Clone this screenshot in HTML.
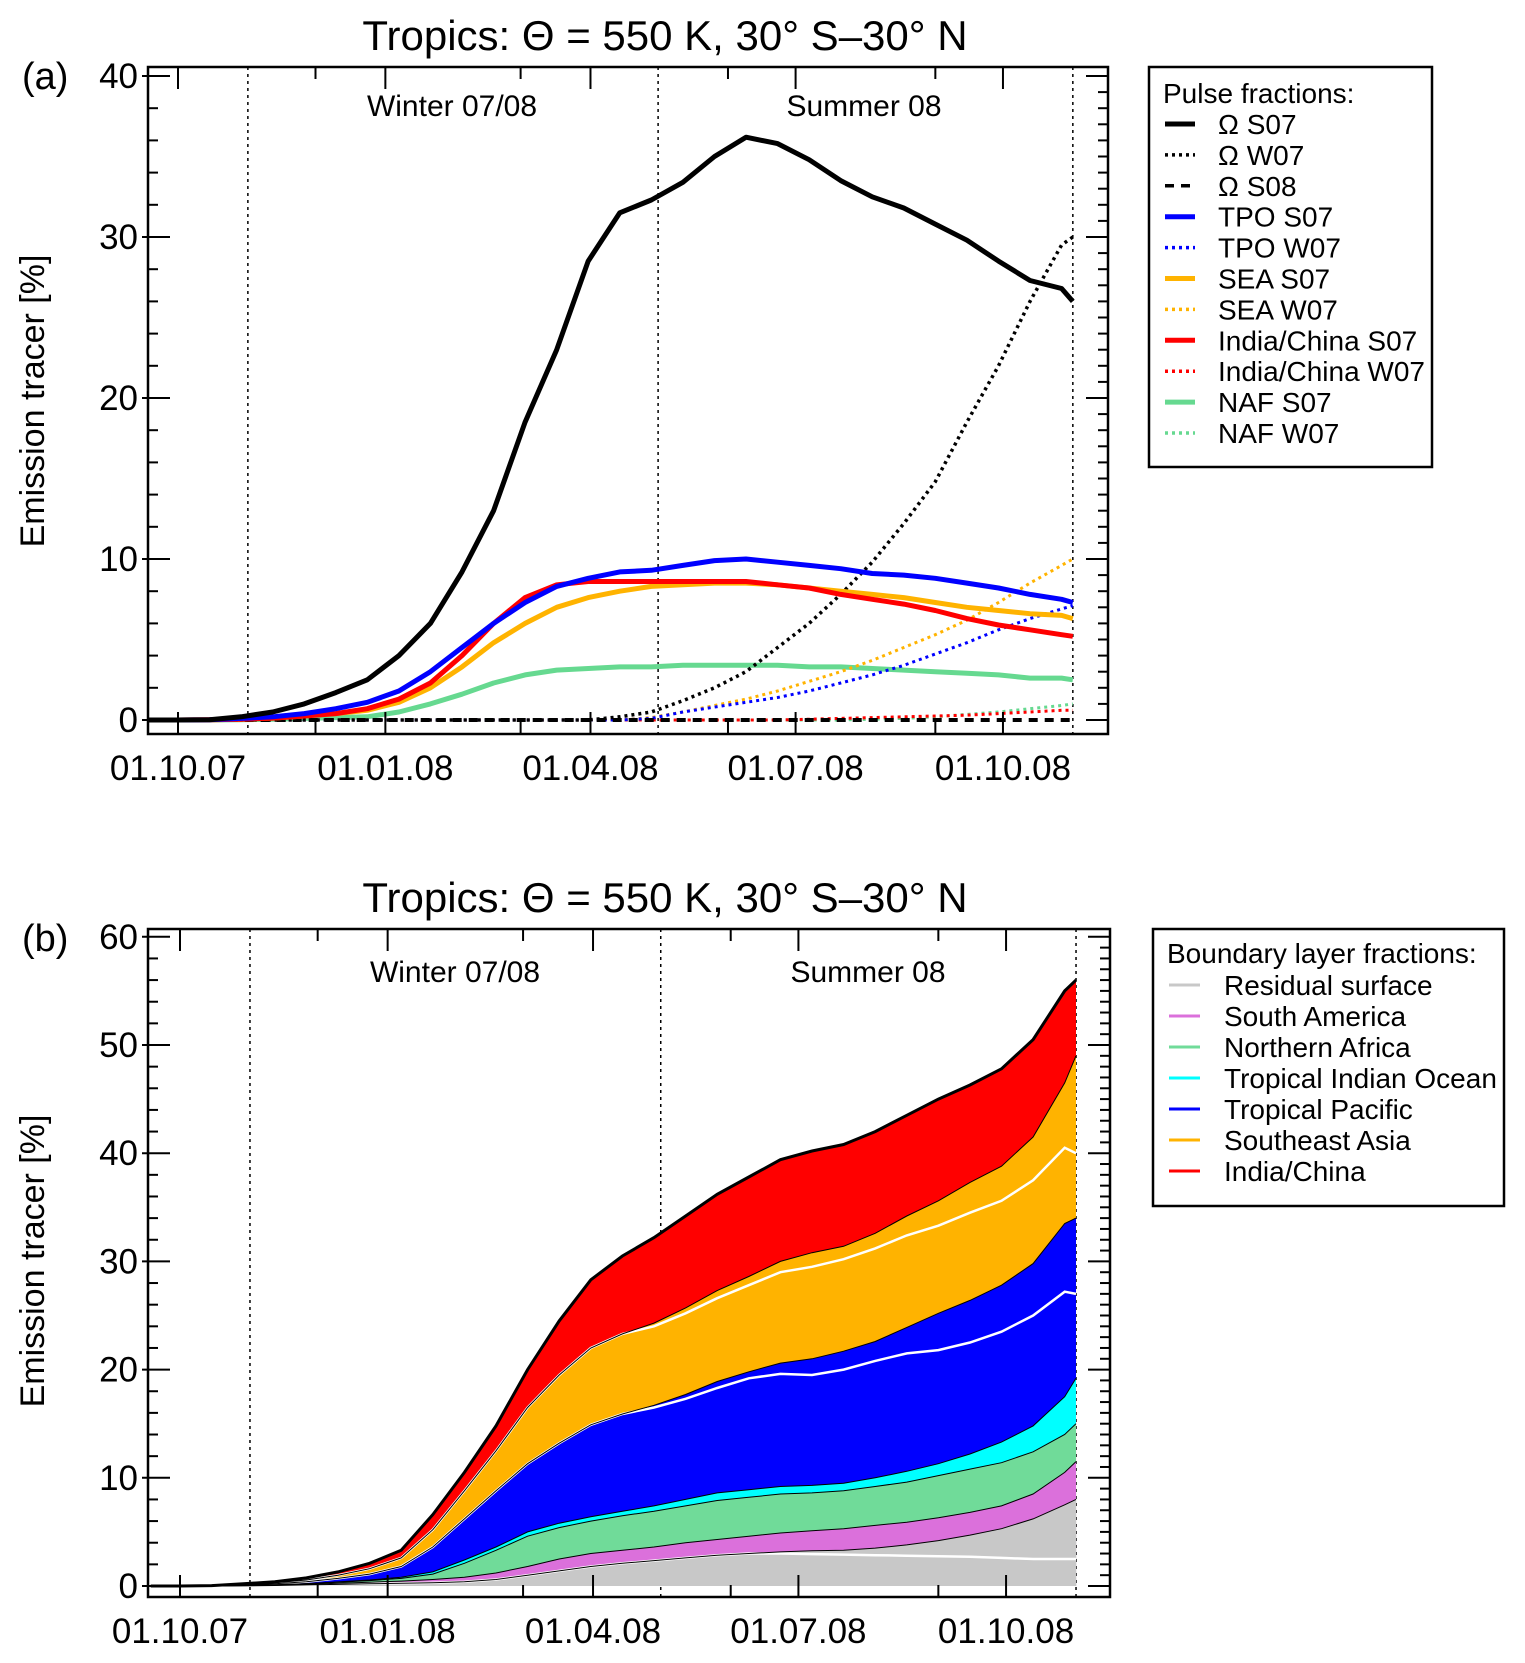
<!DOCTYPE html>
<html><head><meta charset="utf-8"><style>
html,body{margin:0;padding:0;background:#fff;}
svg{display:block;font-family:"Liberation Sans",sans-serif;}
</style></head><body>
<svg id="fig" width="1525" height="1663" viewBox="0 0 1525 1663" xmlns="http://www.w3.org/2000/svg">
<rect width="1525" height="1663" fill="#fff"/>
<g id="pa"></g>
<g id="pb"></g>
</svg>
<script>
// ---- shared data ----
const days = [-13,0,14,28,42,56,70,84,98,112,126,140,154,168,182,196,210,224,238,252,266,280,294,308,322,336,350,364,378,392,397];
const dateTickLabels = ["01.10.07","01.01.08","01.04.08","01.07.08","01.10.08"];
const dateTickDays = [0,92,183,274,366];
const minorTickDays = [61,152,244,336];
const seasonLineDays = [31,213,397];
// ---- panel a data ----
const omegaS07 = [0,0,0.02,0.2,0.5,1.0,1.7,2.5,4,6,9.2,13,18.5,23,28.5,31.5,32.3,33.4,35,36.2,35.8,34.8,33.5,32.5,31.8,30.8,29.8,28.5,27.3,26.8,26];
const omegaW07 = [0,0,0,0,0,0,0,0,0,0,0,0,0,0,0,0.2,0.5,1.2,2,3,4.5,6,7.8,9.8,12.2,14.8,18.5,22,26,29.5,30];
const omegaS08 = [0,0,0,0,0,0,0,0,0,0,0,0,0,0,0,0,0,0,0,0,0,0,0,0,0,0,0,0,0,0,0];
const tpoS07 = [0,0,0.02,0.1,0.2,0.4,0.7,1.1,1.8,3,4.5,6,7.3,8.3,8.8,9.2,9.3,9.6,9.9,10,9.8,9.6,9.4,9.1,9,8.8,8.5,8.2,7.8,7.5,7.3];
const tpoW07 = [0,0,0,0,0,0,0,0,0,0,0,0,0,0,0,0,0.1,0.5,0.8,1.1,1.4,1.8,2.3,2.8,3.4,4.1,4.8,5.6,6.3,6.9,7.1];
const seaS07 = [0,0,0.01,0.05,0.12,0.25,0.4,0.6,1.1,2.0,3.3,4.8,6.0,7.0,7.6,8.0,8.3,8.4,8.5,8.5,8.4,8.2,8,7.8,7.6,7.3,7.0,6.8,6.6,6.5,6.3];
const seaW07 = [0,0,0,0,0,0,0,0,0,0,0,0,0,0,0,0,0.15,0.5,0.9,1.3,1.8,2.4,3.0,3.7,4.5,5.3,6.2,7.3,8.5,9.6,10];
const icS07 = [0,0,0.01,0.05,0.12,0.25,0.4,0.7,1.3,2.3,4,6,7.6,8.4,8.6,8.6,8.6,8.6,8.6,8.6,8.4,8.2,7.8,7.5,7.2,6.8,6.3,5.9,5.6,5.3,5.2];
const icW07 = [0,0,0,0,0,0,0,0,0,0,0,0,0,0,0,0,0,0,0,0,0,0.05,0.1,0.15,0.2,0.25,0.3,0.4,0.5,0.6,0.6];
const nafS07 = [0,0,0,0.02,0.05,0.1,0.15,0.2,0.5,1.0,1.6,2.3,2.8,3.1,3.2,3.3,3.3,3.4,3.4,3.4,3.4,3.3,3.3,3.2,3.1,3.0,2.9,2.8,2.6,2.6,2.5];
const nafW07 = [0,0,0,0,0,0,0,0,0,0,0,0,0,0,0,0,0,0,0,0,0,0,0,0.05,0.1,0.2,0.35,0.5,0.7,0.9,1.0];
const yTicksA = [0,10,20,30,40];
// ---- panel b data (cumulative stack tops) ----
const topResidual = [0,0,0,0.02,0.05,0.1,0.15,0.2,0.25,0.3,0.4,0.6,1.0,1.4,1.8,2.1,2.35,2.6,2.85,3.0,3.15,3.25,3.3,3.5,3.8,4.2,4.7,5.3,6.2,7.5,8];
const topSouthAmerica = [0,0,0,0.03,0.07,0.15,0.25,0.35,0.45,0.6,0.8,1.2,1.8,2.5,3.0,3.3,3.6,4.0,4.3,4.6,4.9,5.1,5.3,5.6,5.9,6.3,6.8,7.4,8.5,10.5,11.5];
const topNorthAfrica = [0,0,0.01,0.05,0.1,0.2,0.35,0.5,0.7,1.1,2.1,3.3,4.6,5.4,6.0,6.5,6.9,7.4,7.9,8.2,8.5,8.6,8.8,9.2,9.6,10.2,10.8,11.4,12.4,14.0,15];
const topIndianOcean = [0,0,0.01,0.06,0.12,0.22,0.38,0.55,0.8,1.3,2.4,3.6,5.0,5.8,6.4,6.9,7.4,8.0,8.6,8.9,9.2,9.3,9.5,10.0,10.6,11.3,12.2,13.3,14.8,17.5,19.2];
const topPacific = [0,0,0.02,0.1,0.2,0.4,0.7,1.1,1.8,3.6,6.2,8.8,11.3,13.2,14.9,15.9,16.7,17.7,18.9,19.8,20.6,21.0,21.7,22.6,23.9,25.2,26.4,27.8,29.8,33.5,34];
const topSEAsia = [0,0,0.03,0.15,0.3,0.55,1.0,1.6,2.6,5.2,8.8,12.5,16.5,19.5,22.0,23.3,24.3,25.7,27.3,28.6,30.0,30.8,31.4,32.6,34.2,35.6,37.3,38.8,41.5,46.5,49];
const topIndiaChina = [0,0,0.04,0.2,0.4,0.75,1.3,2.1,3.3,6.6,10.5,14.8,20.0,24.5,28.3,30.5,32.2,34.2,36.2,37.8,39.4,40.2,40.8,42.0,43.5,45.0,46.3,47.8,50.5,55,56];
const whiteSEA = [0,0,0.03,0.15,0.3,0.55,1.0,1.6,2.6,5.2,8.8,12.5,16.5,19.5,22.0,23.3,24.0,25.2,26.6,27.8,29.0,29.5,30.2,31.2,32.4,33.3,34.5,35.6,37.5,40.5,40];
const whiteTPO = [0,0,0.02,0.1,0.2,0.4,0.7,1.1,1.8,3.6,6.2,8.8,11.3,13.2,14.9,15.9,16.5,17.3,18.3,19.2,19.6,19.5,20.0,20.8,21.5,21.8,22.5,23.5,25,27.2,27];
const whiteResidual = [0,0,0,0.02,0.05,0.1,0.15,0.2,0.25,0.3,0.4,0.6,1.0,1.4,1.8,2.1,2.35,2.6,2.85,3.0,3.0,2.95,2.9,2.85,2.8,2.75,2.7,2.6,2.5,2.5,2.5];
const yTicksB = [0,10,20,30,40,50,60];

const NS="http://www.w3.org/2000/svg";
function mk(parent,tag,attrs,text){const e=document.createElementNS(NS,tag);for(const k in attrs)e.setAttribute(k,attrs[k]);if(text!==undefined)e.textContent=text;parent.appendChild(e);return e;}

function panel(g,cfg){
  const X=d=>cfg.x0+d*cfg.kx, Y=v=>cfg.y0-v*cfg.ky;
  const L=cfg.left,R=cfg.right,T=cfg.top,B=cfg.bottom;
  let t=mk(g,'text',{x:cfg.titleX,y:cfg.titleY,'font-size':42,'text-anchor':'middle'},'Tropics: Θ = 550 K, 30° S–30° N');
  
  
  t=mk(g,'text',{x:22,y:cfg.labelY,'font-size':38},cfg.label);
  
  
  t=mk(g,'text',{x:0,y:0,'font-size':34,'text-anchor':'middle',transform:`translate(44,${cfg.yTitleC}) rotate(-90)`},'Emission tracer [%]');
  
  
  seasonLineDays.forEach(d=>{const l=mk(g,'line',{x1:X(d),x2:X(d),y1:T,y2:B,stroke:'#000','stroke-width':1.5,'stroke-dasharray':'3,4'});
    
    });
  t=mk(g,'text',{x:cfg.winterX,y:cfg.seasonY,'font-size':30,'text-anchor':'middle'},'Winter 07/08');
  
  
  t=mk(g,'text',{x:cfg.summerX,y:cfg.seasonY,'font-size':30,'text-anchor':'middle'},'Summer 08');
  
  
  cfg.draw(g,X,Y);
  const f=mk(g,'rect',{x:L,y:T,width:R-L,height:B-T,fill:'none',stroke:'#000','stroke-width':2.5});
  
  
  dateTickDays.forEach((d,i)=>{
    mk(g,'line',{x1:X(d),x2:X(d),y1:B,y2:B-22,stroke:'#000','stroke-width':2});
    mk(g,'line',{x1:X(d),x2:X(d),y1:T,y2:T+22,stroke:'#000','stroke-width':2});
    const tl=mk(g,'text',{x:X(d),y:cfg.xLabY,'font-size':35,'text-anchor':'middle'},dateTickLabels[i]);
    
    
  });
  minorTickDays.forEach(d=>{
    mk(g,'line',{x1:X(d),x2:X(d),y1:B,y2:B-12,stroke:'#000','stroke-width':2});
    mk(g,'line',{x1:X(d),x2:X(d),y1:T,y2:T+12,stroke:'#000','stroke-width':2});
  });
  const ymax=cfg.yTicks[cfg.yTicks.length-1];
  for(let v=0;v<=ymax;v+=1){
    const major=cfg.yTicks.includes(v);
    mk(g,'line',{x1:R,x2:R-(major?22:10),y1:Y(v),y2:Y(v),stroke:'#000','stroke-width':2});
    if(major||v%2===0) mk(g,'line',{x1:L-(major?6:0),x2:L+(major?22:10),y1:Y(v),y2:Y(v),stroke:'#000','stroke-width':2});
  }
  cfg.yTicks.forEach(v=>{const tl=mk(g,'text',{x:L-10,y:Y(v)+12,'font-size':35,'text-anchor':'end'},String(v));
    
    });
}
function pathOf(X,Y,vals){return vals.map((v,i)=>(i?'L':'M')+X(days[i]).toFixed(1)+','+Y(v).toFixed(1)).join('');}

const seriesA=[
 {name:'naf-s07',vals:nafS07,color:'#66d990',w:5,dash:''},
 {name:'naf-w07',vals:nafW07,color:'#66d990',w:3,dash:'3,4'},
 {name:'ic-w07',vals:icW07,color:'#ff0000',w:3,dash:'3,4'},
 {name:'sea-w07',vals:seaW07,color:'#ffb300',w:3,dash:'3,4'},
 {name:'tpo-w07',vals:tpoW07,color:'#0000ff',w:3,dash:'3,4'},
 {name:'omega-s08',vals:omegaS08,color:'#000',w:4,dash:'9,7'},
 {name:'omega-w07',vals:omegaW07,color:'#000',w:3.5,dash:'3,4'},
 {name:'sea-s07',vals:seaS07,color:'#ffb300',w:5,dash:''},
 {name:'ic-s07',vals:icS07,color:'#ff0000',w:5,dash:''},
 {name:'tpo-s07',vals:tpoS07,color:'#0000ff',w:5,dash:''},
 {name:'omega-s07',vals:omegaS07,color:'#000',w:5,dash:''}
];
panel(document.getElementById('pa'),{x0:178,kx:2.254,y0:720,ky:16.1,left:148,right:1108,top:67,bottom:734,
 titleX:665,titleY:50,label:'(a)',labelY:89,yTitleC:401,winterX:452,summerX:864,seasonY:116,xLabY:780,yTicks:yTicksA,
 draw:(g,X,Y)=>{seriesA.forEach(s=>{const p=mk(g,'path',{d:pathOf(X,Y,s.vals),fill:'none',stroke:s.color,'stroke-width':s.w,'stroke-dasharray':s.dash,'stroke-linejoin':'round'});
   
   });}});
(function(){const g=document.getElementById('pa');
 const box=mk(g,'rect',{x:1149,y:67,width:283,height:400,fill:'#fff',stroke:'#000','stroke-width':2.5});
 
 
 mk(g,'text',{x:1163,y:103,'font-size':28},'Pulse fractions:');
 const items=[['Ω S07','#000',''],['Ω W07','#000','3,4'],['Ω S08','#000','9,7'],['TPO S07','#0000ff',''],['TPO W07','#0000ff','3,4'],['SEA S07','#ffb300',''],['SEA W07','#ffb300','3,4'],['India/China S07','#ff0000',''],['India/China W07','#ff0000','3,4'],['NAF S07','#66d990',''],['NAF W07','#66d990','3,4']];
 items.forEach((it,i)=>{const y=124+i*30.9;
  const e=mk(g,'g',{});
  
  
  mk(e,'line',{x1:1165,x2:1195,y1:y,y2:y,stroke:it[1],'stroke-width':it[2]?3.5:5,'stroke-dasharray':it[2]});
  mk(e,'text',{x:1218,y:y+10,'font-size':28},it[0]);});
})();

const layersB=[
 {name:'india-china',top:topIndiaChina,color:'#ff0000'},
 {name:'southeast-asia',top:topSEAsia,color:'#ffb300'},
 {name:'tropical-pacific',top:topPacific,color:'#0000ff'},
 {name:'tropical-indian-ocean',top:topIndianOcean,color:'#00ffff'},
 {name:'northern-africa',top:topNorthAfrica,color:'#70db99'},
 {name:'south-america',top:topSouthAmerica,color:'#db70db'},
 {name:'residual-surface',top:topResidual,color:'#c8c8c8'}
];
panel(document.getElementById('pb'),{x0:180,kx:2.257,y0:1586,ky:10.82,left:148,right:1110,top:929,bottom:1597,
 titleX:665,titleY:912,label:'(b)',labelY:951,yTitleC:1261,winterX:455,summerX:868,seasonY:982,xLabY:1643,yTicks:yTicksB,
 draw:(g,X,Y)=>{
  layersB.forEach(l=>{const d=pathOf(X,Y,l.top)+'L'+X(days[days.length-1])+','+Y(0)+'L'+X(days[0])+','+Y(0)+'Z';
   const p=mk(g,'path',{d:d,fill:l.color,stroke:'none'});
   
   });
  [whiteSEA,whiteTPO,whiteResidual].forEach(v=>{const p=mk(g,'path',{d:pathOf(X,Y,v),fill:'none',stroke:'#fff','stroke-width':2.5});
   
   });
  layersB.forEach((l,i)=>{const p=mk(g,'path',{d:pathOf(X,Y,l.top),fill:'none',stroke:'#000','stroke-width':i===0?3:1});
   
   });
 }});
(function(){const g=document.getElementById('pb');
 const box=mk(g,'rect',{x:1153,y:929,width:351,height:277,fill:'#fff',stroke:'#000','stroke-width':2.5});
 
 
 mk(g,'text',{x:1167,y:963,'font-size':28},'Boundary layer fractions:');
 const items=[['Residual surface','#c8c8c8'],['South America','#db70db'],['Northern Africa','#70db99'],['Tropical Indian Ocean','#00ffff'],['Tropical Pacific','#0000ff'],['Southeast Asia','#ffb300'],['India/China','#ff0000']];
 items.forEach((it,i)=>{const y=985+i*31;
  const e=mk(g,'g',{});
  
  
  mk(e,'line',{x1:1169,x2:1200,y1:y,y2:y,stroke:it[1],'stroke-width':3});
  mk(e,'text',{x:1224,y:y+10,'font-size':28},it[0]);});
})();
</script>
</body></html>
